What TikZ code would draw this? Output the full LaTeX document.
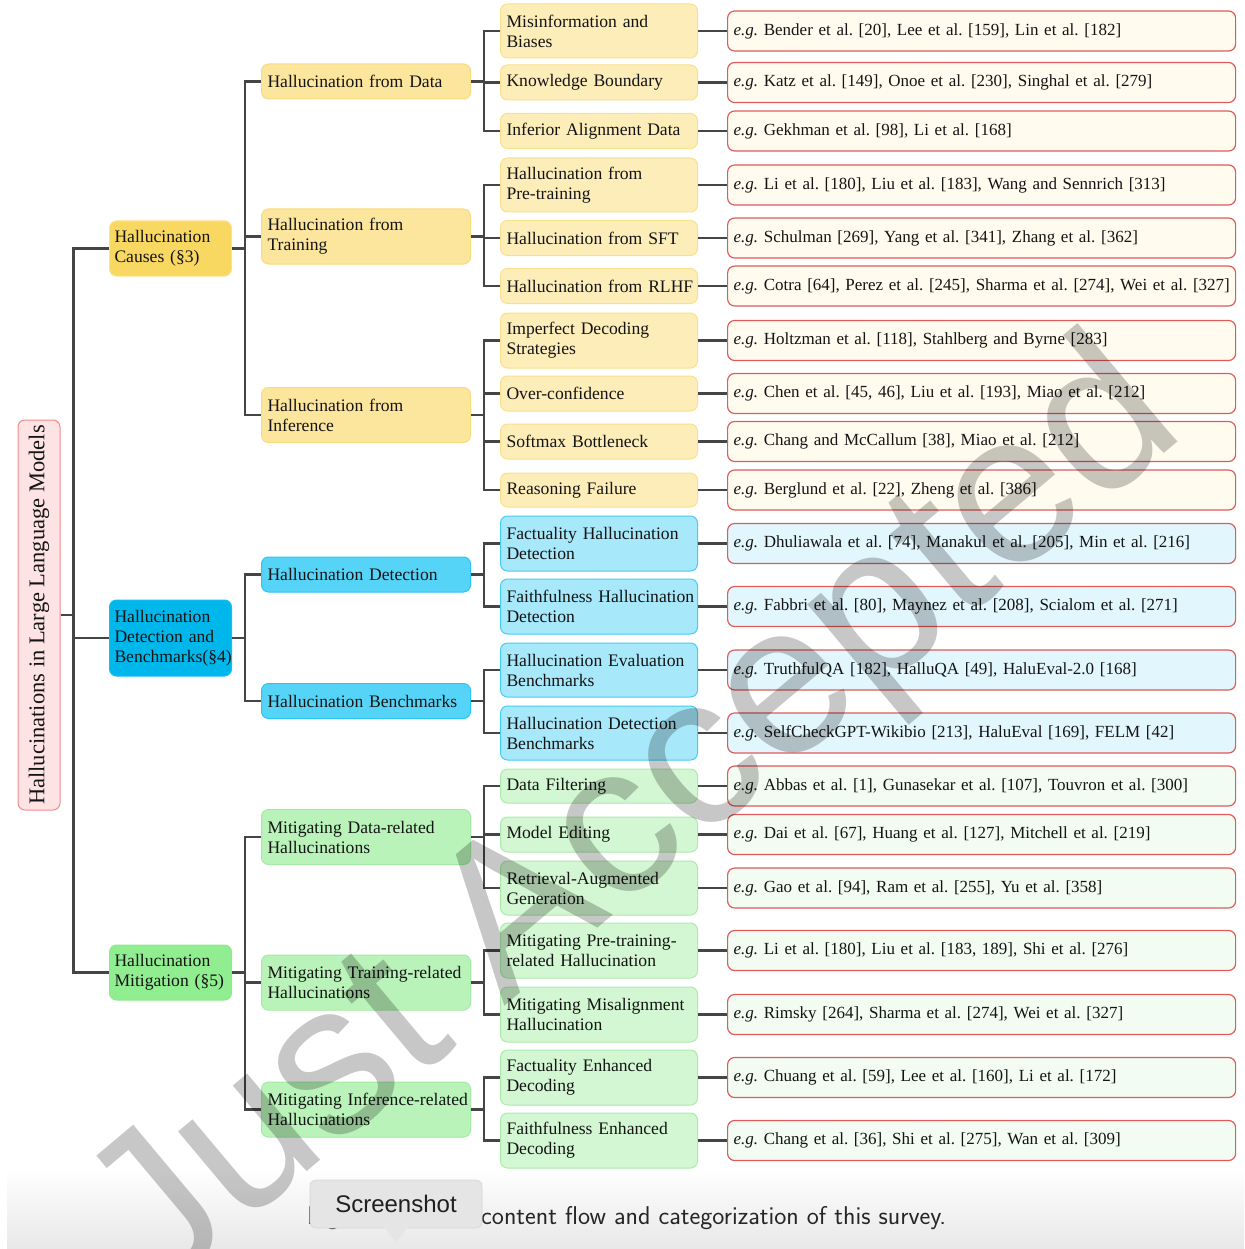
\documentclass[tikz,border=0pt]{standalone}
\usepackage{fontspec}
\setmainfont{Liberation Serif}
\newfontfamily\tipfont{Liberation Sans}
\usetikzlibrary{shadings}
\frenchspacing
\definecolor{lineC}{HTML}{454545}
\definecolor{rootF}{HTML}{FDE3E3}\definecolor{rootD}{HTML}{F28B8B}
\definecolor{yAf}{HTML}{F9D862}\definecolor{yAd}{HTML}{FBE28E}
\definecolor{yBf}{HTML}{FCE59D}\definecolor{yBd}{HTML}{F9DC7C}
\definecolor{yCf}{HTML}{FDEDB9}\definecolor{yCd}{HTML}{FBE08C}
\definecolor{yRf}{HTML}{FFFCEF}
\definecolor{bAf}{HTML}{00B7EB}\definecolor{bAd}{HTML}{14BFEF}
\definecolor{bBf}{HTML}{55D4F7}\definecolor{bBd}{HTML}{2CC6F3}
\definecolor{bCf}{HTML}{A7E8FA}\definecolor{bCd}{HTML}{45CDF4}
\definecolor{bRf}{HTML}{E2F6FD}
\definecolor{gAf}{HTML}{90EE90}\definecolor{gAd}{HTML}{8FE88F}
\definecolor{gBf}{HTML}{B9F3B9}\definecolor{gBd}{HTML}{A3EBA3}
\definecolor{gCf}{HTML}{D2F7D2}\definecolor{gCd}{HTML}{ACEBAC}
\definecolor{gRf}{HTML}{F2FCF2}
\definecolor{refD}{HTML}{E05A5A}
\newcommand\fs{\fontsize{17.6}{20}\selectfont}
\newcommand\fr{\fontsize{17.0}{20}\selectfont}
\tikzset{
  base/.style={rectangle, rounded corners=7pt, inner xsep=6pt, inner ysep=2pt,
    align=left, anchor=west, font=\fs, text=black!92, line width=1pt},
  lone/.style={base, inner xsep=5pt, text width=112pt},
  ltwo/.style={base, text width=197pt},
  lthree/.style={base, text width=185pt},
  lref/.style={base, font=\fr, text width=496pt, minimum height=40pt, draw=refD, line width=1.2pt},
  sh/.style={minimum height=35pt},
  tl/.style={minimum height=55pt},
  yA/.style={fill=yAf, draw=yAd}, yB/.style={fill=yBf, draw=yBd}, yC/.style={fill=yCf, draw=yCd}, yR/.style={lref, fill=yRf},
  bA/.style={fill=bAf, draw=bAd}, bB/.style={fill=bBf, draw=bBd}, bC/.style={fill=bCf, draw=bCd}, bR/.style={lref, fill=bRf},
  gA/.style={fill=gAf, draw=gAd}, gB/.style={fill=gBf, draw=gBd}, gC/.style={fill=gCf, draw=gCd}, gR/.style={lref, fill=gRf},
  conn/.style={draw=lineC, line width=2.6pt, line join=miter},
}
\begin{document}
\begin{tikzpicture}[x=1pt,y=-1pt]
\useasboundingbox (0,0) rectangle (1244,1249);
\fill[white] (0,0) rectangle (1244,1249);
% caption band
\shade[top color=white, bottom color=black!9] (7,1168) rectangle (1244,1249);

% root
\node[base, anchor=center, align=center, inner xsep=0pt, inner ysep=0pt, fill=rootF, draw=rootD,
  minimum width=42pt, minimum height=390pt] (root) at (39,615)
  {\rotatebox{90}{\fontsize{22.5}{26}\selectfont Hallucinations in Large Language Models}};

% level 1
\node[lone, yA, tl] (causes) at (109,248.5) {Hallucination\\Causes (§3)};
\node[lone, bA, minimum height=76pt] (detect) at (109,638) {Hallucination\\Detection and\\\mbox{Benchmarks(§4)}};
\node[lone, gA, tl] (mitig) at (109,972.5) {Hallucination\\Mitigation (§5)};

% level 2
\node[ltwo, yB, sh] (hdata) at (261,81.5) {Hallucination from Data};
\node[ltwo, yB, tl] (htrain) at (261,236.5) {Hallucination from\\Training};
\node[ltwo, yB, tl] (hinfer) at (261,415) {Hallucination from\\Inference};
\node[ltwo, bB, sh] (hdet) at (261,574.5) {Hallucination Detection};
\node[ltwo, bB, sh] (hbench) at (261,701) {Hallucination Benchmarks};
\node[ltwo, gB, tl] (mdata) at (261,837) {Mitigating Data-related\\Hallucinations};
\node[ltwo, gB, tl] (mtrain) at (261,982.5) {\mbox{Mitigating Training-related}\\Hallucinations};
\node[ltwo, gB, tl] (minfer) at (261,1109.5) {\mbox{Mitigating Inference-related}\\Hallucinations};

% level 3
\node[lthree, yC, minimum height=54pt] (misinfo) at (500,31) {Misinformation and\\Biases};
\node[lthree, yC, sh] (know) at (500,82.5) {Knowledge Boundary};
\node[lthree, yC, sh] (infal) at (500,131) {Inferior Alignment Data};
\node[lthree, yC, minimum height=54pt] (pretr) at (500,185) {Hallucination from\\Pre-training};
\node[lthree, yC, sh] (sft) at (500,238) {Hallucination from SFT};
\node[lthree, yC, sh] (rlhf) at (500,286) {\mbox{Hallucination from RLHF}};
\node[lthree, yC, tl] (decode) at (500,340.5) {Imperfect Decoding\\Strategies};
\node[lthree, yC, sh] (overc) at (500,393.5) {Over-confidence};
\node[lthree, yC, sh] (softm) at (500,441.5) {Softmax Bottleneck};
\node[lthree, yC, minimum height=34pt] (reason) at (500,490) {Reasoning Failure};
\node[lthree, bC, tl] (factd) at (500,543.5) {Factuality Hallucination\\Detection};
\node[lthree, bC, tl] (faithd) at (500,606.5) {\mbox{Faithfulness Hallucination}\\Detection};
\node[lthree, bC, minimum height=54pt] (evalb) at (500,670) {\mbox{Hallucination Evaluation}\\Benchmarks};
\node[lthree, bC, minimum height=54pt] (detb) at (500,733) {\mbox{Hallucination Detection}\\Benchmarks};
\node[lthree, gC, minimum height=34pt] (filt) at (500,786) {Data Filtering};
\node[lthree, gC, sh] (edit) at (500,834.5) {Model Editing};
\node[lthree, gC, minimum height=54pt] (rag) at (500,888) {Retrieval-Augmented\\Generation};
\node[lthree, gC, tl] (mpre) at (500,950.5) {Mitigating Pre-training-\\related Hallucination};
\node[lthree, gC, tl] (misal) at (500,1014.5) {\mbox{Mitigating Misalignment}\\Hallucination};
\node[lthree, gC, tl] (facte) at (500,1077.5) {Factuality Enhanced\\Decoding};
\node[lthree, gC, tl] (faithe) at (500,1140.5) {Faithfulness Enhanced\\Decoding};

% references
\node[yR] (r1) at (727,31) {\mbox{\textit{e.g.} Bender et al. [20], Lee et al. [159], Lin et al. [182]}};
\node[yR] (r2) at (727,82.5) {\mbox{\textit{e.g.} Katz et al. [149], Onoe et al. [230], Singhal et al. [279]}};
\node[yR] (r3) at (727,131) {\mbox{\textit{e.g.} Gekhman et al. [98], Li et al. [168]}};
\node[yR] (r4) at (727,185) {\mbox{\textit{e.g.} Li et al. [180], Liu et al. [183], Wang and Sennrich [313]}};
\node[yR] (r5) at (727,238) {\mbox{\textit{e.g.} Schulman [269], Yang et al. [341], Zhang et al. [362]}};
\node[yR] (r6) at (727,286) {\mbox{\textit{e.g.} Cotra [64], Perez et al. [245], Sharma et al. [274], Wei et al. [327]}};
\node[yR] (r7) at (727,340.5) {\mbox{\textit{e.g.} Holtzman et al. [118], Stahlberg and Byrne [283]}};
\node[yR] (r8) at (727,393.5) {\mbox{\textit{e.g.} Chen et al. [45, 46], Liu et al. [193], Miao et al. [212]}};
\node[yR] (r9) at (727,441.5) {\mbox{\textit{e.g.} Chang and McCallum [38], Miao et al. [212]}};
\node[yR] (r10) at (727,490) {\mbox{\textit{e.g.} Berglund et al. [22], Zheng et al. [386]}};
\node[bR] (r11) at (727,543.5) {\mbox{\textit{e.g.} Dhuliawala et al. [74], Manakul et al. [205], Min et al. [216]}};
\node[bR] (r12) at (727,606.5) {\mbox{\textit{e.g.} Fabbri et al. [80], Maynez et al. [208], Scialom et al. [271]}};
\node[bR] (r13) at (727,670) {\mbox{\textit{e.g.} TruthfulQA [182], HalluQA [49], HaluEval-2.0 [168]}};
\node[bR] (r14) at (727,733) {\mbox{\textit{e.g.} SelfCheckGPT-Wikibio [213], HaluEval [169], FELM [42]}};
\node[gR] (r15) at (727,786) {\mbox{\textit{e.g.} Abbas et al. [1], Gunasekar et al. [107], Touvron et al. [300]}};
\node[gR] (r16) at (727,834.5) {\mbox{\textit{e.g.} Dai et al. [67], Huang et al. [127], Mitchell et al. [219]}};
\node[gR] (r17) at (727,888) {\mbox{\textit{e.g.} Gao et al. [94], Ram et al. [255], Yu et al. [358]}};
\node[gR] (r18) at (727,950.5) {\mbox{\textit{e.g.} Li et al. [180], Liu et al. [183, 189], Shi et al. [276]}};
\node[gR] (r19) at (727,1014.5) {\mbox{\textit{e.g.} Rimsky [264], Sharma et al. [274], Wei et al. [327]}};
\node[gR] (r20) at (727,1077.5) {\mbox{\textit{e.g.} Chuang et al. [59], Lee et al. [160], Li et al. [172]}};
\node[gR] (r21) at (727,1140.5) {\mbox{\textit{e.g.} Chang et al. [36], Shi et al. [275], Wan et al. [309]}};

% connectors: root -> level 1
\foreach \c in {causes,detect,mitig}
  \draw[conn] (root.east) -- ++(13,0) |- (\c.west);
% level 1 -> level 2
\foreach \c in {hdata,htrain,hinfer} \draw[conn] (causes.east) -- ++(13,0) |- (\c.west);
\foreach \c in {hdet,hbench} \draw[conn] (detect.east) -- ++(13,0) |- (\c.west);
\foreach \c in {mdata,mtrain,minfer} \draw[conn] (mitig.east) -- ++(13,0) |- (\c.west);
% level 2 -> level 3
\foreach \c in {misinfo,know,infal} \draw[conn] (hdata.east) -- ++(13,0) |- (\c.west);
\foreach \c in {pretr,sft,rlhf} \draw[conn] (htrain.east) -- ++(13,0) |- (\c.west);
\foreach \c in {decode,overc,softm,reason} \draw[conn] (hinfer.east) -- ++(13,0) |- (\c.west);
\foreach \c in {factd,faithd} \draw[conn] (hdet.east) -- ++(13,0) |- (\c.west);
\foreach \c in {evalb,detb} \draw[conn] (hbench.east) -- ++(13,0) |- (\c.west);
\foreach \c in {filt,edit,rag} \draw[conn] (mdata.east) -- ++(13,0) |- (\c.west);
\foreach \c in {mpre,misal} \draw[conn] (mtrain.east) -- ++(13,0) |- (\c.west);
\foreach \c in {facte,faithe} \draw[conn] (minfer.east) -- ++(13,0) |- (\c.west);
% level 3 -> references
\foreach \a/\b in {misinfo/r1,know/r2,infal/r3,pretr/r4,sft/r5,rlhf/r6,decode/r7,overc/r8,softm/r9,reason/r10,
  factd/r11,faithd/r12,evalb/r13,detb/r14,filt/r15,edit/r16,rag/r17,mpre/r18,misal/r19,facte/r20,faithe/r21}
  \draw[conn] (\a.east) -- (\b.west);

% caption
\node[anchor=base west, inner sep=0pt, font=\sffamily\fontsize{25.7}{28}\selectfont, text=black!85] (capA) at (307,1224) {Fig. 2. The};
\node[anchor=base west, inner sep=0pt, font=\sffamily\fontsize{25.7}{28}\selectfont, text=black!85] (capB) at (481,1224) {content flow and categorization of this survey.};

% watermark
\node[rotate=40, inner sep=0pt, text=black, text opacity=0.22, font=\tipfont\fontsize{214}{214}\selectfont] (wm) at (638,822) {Just Accepted};

% tooltip
\fill[black!10, draw=black!16, line width=0.6pt, rounded corners=6pt] (310,1180) rectangle (482,1228);
\fill[black!10] (384,1227) -- (408,1227) -- (396,1242) -- cycle;
\node[inner sep=0pt, font=\tipfont\fontsize{24}{28}\selectfont, text=black!88] (tip) at (396,1204) {Screenshot};
\end{tikzpicture}
\end{document}
